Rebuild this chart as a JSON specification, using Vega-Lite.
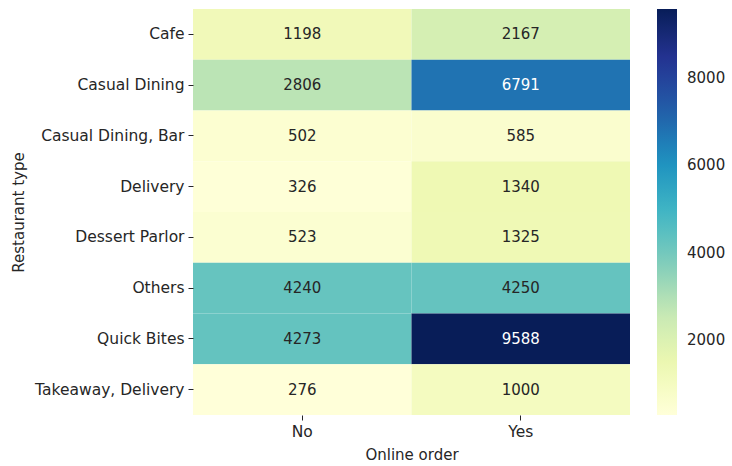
{
  "$schema": "https://vega.github.io/schema/vega-lite/v6.json",
  "autosize": {"type": "none"},
  "padding": {"left": 193, "top": 9, "right": 102, "bottom": 51},
  "width": 437,
  "height": 406,
  "background": "white",
  "config": {
    "view": {"stroke": null},
    "font": "DejaVu Sans",
    "axis": {"labelFont": "DejaVu Sans", "titleFont": "DejaVu Sans", "labelFontSize": 15.5, "titleFontSize": 15, "titleFontWeight": "normal", "labelColor": "#262626", "titleColor": "#262626", "tickColor": "#262626", "domain": false, "grid": false, "tickSize": 5, "labelPadding": 4},
    "legend": {"labelFont": "DejaVu Sans", "labelFontSize": 15, "labelColor": "#262626"}
  },
  "data": {
    "values": [
      {"type": "Cafe", "online": "No", "count": 1198},
      {"type": "Cafe", "online": "Yes", "count": 2167},
      {"type": "Casual Dining", "online": "No", "count": 2806},
      {"type": "Casual Dining", "online": "Yes", "count": 6791},
      {"type": "Casual Dining, Bar", "online": "No", "count": 502},
      {"type": "Casual Dining, Bar", "online": "Yes", "count": 585},
      {"type": "Delivery", "online": "No", "count": 326},
      {"type": "Delivery", "online": "Yes", "count": 1340},
      {"type": "Dessert Parlor", "online": "No", "count": 523},
      {"type": "Dessert Parlor", "online": "Yes", "count": 1325},
      {"type": "Others", "online": "No", "count": 4240},
      {"type": "Others", "online": "Yes", "count": 4250},
      {"type": "Quick Bites", "online": "No", "count": 4273},
      {"type": "Quick Bites", "online": "Yes", "count": 9588},
      {"type": "Takeaway, Delivery", "online": "No", "count": 276},
      {"type": "Takeaway, Delivery", "online": "Yes", "count": 1000}
    ]
  },
  "encoding": {
    "x": {"field": "online", "type": "nominal", "sort": null, "scale": {"paddingInner": 0, "paddingOuter": 0}, "axis": {"title": "Online order", "labelAngle": 0, "titlePadding": 8}},
    "y": {"field": "type", "type": "nominal", "sort": null, "scale": {"paddingInner": 0, "paddingOuter": 0}, "axis": {"title": "Restaurant type", "titlePadding": 8}}
  },
  "layer": [
    {
      "mark": {"type": "rect", "strokeWidth": 0},
      "encoding": {
        "color": {
          "field": "count", "type": "quantitative",
          "scale": {
            "domain": [276, 1440, 2604, 3768, 4932, 6096, 7260, 8424, 9588],
            "range": ["#ffffd9", "#edf8b1", "#c7e9b4", "#7fcdbb", "#41b6c4", "#1d91c0", "#225ea8", "#253494", "#081d58"],
            "interpolate": "rgb"
          },
          "legend": {
            "title": null,
            "orient": "none",
            "legendX": 464,
            "legendY": 0,
            "direction": "vertical",
            "gradientLength": 406,
            "gradientThickness": 20,
            "gradientStrokeWidth": 0,
            "values": [2000, 4000, 6000, 8000],
            "format": "d",
            "labelOffset": 10
          }
        }
      }
    },
    {
      "mark": {"type": "text", "fontSize": 15, "font": "DejaVu Sans"},
      "encoding": {
        "text": {"field": "count", "type": "quantitative", "format": "d"},
        "color": {"condition": {"test": "datum.count > 6000", "value": "#ffffff"}, "value": "#262626"}
      }
    }
  ]
}
